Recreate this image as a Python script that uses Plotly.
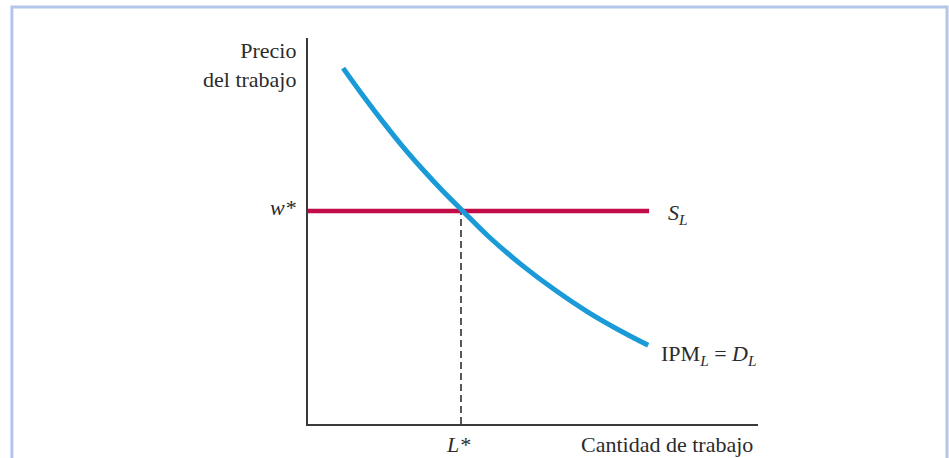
import plotly.graph_objects as go

# Demand curve (marginal revenue product of labour)
demand_x = [0.78, 1.22, 1.67, 2.11, 2.56, 3.00, 3.42, 4.00, 4.76, 5.49, 6.22, 6.98, 7.56]
demand_y = [9.22, 8.51, 7.82, 7.18, 6.58, 6.03, 5.54, 4.87, 4.11, 3.47, 2.90, 2.39, 2.04]

# Horizontal labour supply at the market wage
wage = 5.52
supply_x = [0, 7.58]
supply_y = [wage, wage]

# Equilibrium quantity of labour
l_star = 3.4

FONT = "Liberation Serif"
TXT = "#2b2b2b"

fig = go.Figure()

# dashed drop line from the equilibrium to the x axis
fig.add_trace(go.Scatter(
    x=[l_star, l_star], y=[0, wage],
    mode="lines",
    line=dict(color="#000000", width=1.3, dash="7px,4px"),
    showlegend=False, hoverinfo="skip"
))

# supply S_L
fig.add_trace(go.Scatter(
    x=supply_x, y=supply_y,
    mode="lines",
    line=dict(color="#c30d49", width=4.5),
    showlegend=False, hoverinfo="skip"
))

# demand IPM_L = D_L
fig.add_trace(go.Scatter(
    x=demand_x, y=demand_y,
    mode="lines",
    line=dict(color="#1a9bd7", width=5, shape="spline"),
    showlegend=False, hoverinfo="skip"
))

# all labels placed in paper coordinates (axis-referenced ones off range get hidden)
labels = [
    # text, x, y, xanchor, align
    ("Precio<br>del trabajo", -0.022, 0.93, "right", "right"),
    ("<i>w*</i>", -0.022, 0.562, "right", "right"),
    ("<i>L*</i>", 0.333, -0.052, "center", "center"),
    ("Cantidad de trabajo", 0.993, -0.052, "right", "right"),
    ("<i>S</i><sub><i>L</i></sub>", 0.795, 0.545, "left", "left"),
    ("IPM<sub><i>L</i></sub> = <i>D</i><sub><i>L</i></sub>", 0.78, 0.18, "left", "left"),
]

for text, x, y, xanchor, align in labels:
    fig.add_annotation(
        text=text, x=x, y=y, xref="paper", yref="paper",
        xanchor=xanchor, yanchor="middle", align=align,
        showarrow=False,
        font=dict(family=FONT, size=22, color=TXT)
    )

# light blue frame around the figure (bottom edge falls off the page)
fig.add_shape(
    type="rect", xref="paper", yref="paper",
    x0=-0.658, x1=1.42, y0=-0.3, y1=1.080,
    line=dict(color="#b3c6e8", width=3),
    fillcolor="rgba(0,0,0,0)", layer="below"
)

fig.update_layout(
    width=949, height=458,
    margin=dict(l=308, r=191, t=38, b=34),
    plot_bgcolor="white", paper_bgcolor="white",
    xaxis=dict(
        range=[0, 10], showgrid=False, zeroline=False,
        showticklabels=False, ticks="",
        showline=True, linecolor="#3a3a3a", linewidth=1.5
    ),
    yaxis=dict(
        range=[0, 10], showgrid=False, zeroline=False,
        showticklabels=False, ticks="",
        showline=True, linecolor="#3a3a3a", linewidth=1.5
    ),
)

# drop the default 8px body margin so the figure fills the window exactly
fig.write_html(
    "out.html",
    config={"displayModeBar": False},
    post_script="document.body.style.margin='0';document.body.style.overflow='hidden';"
)
